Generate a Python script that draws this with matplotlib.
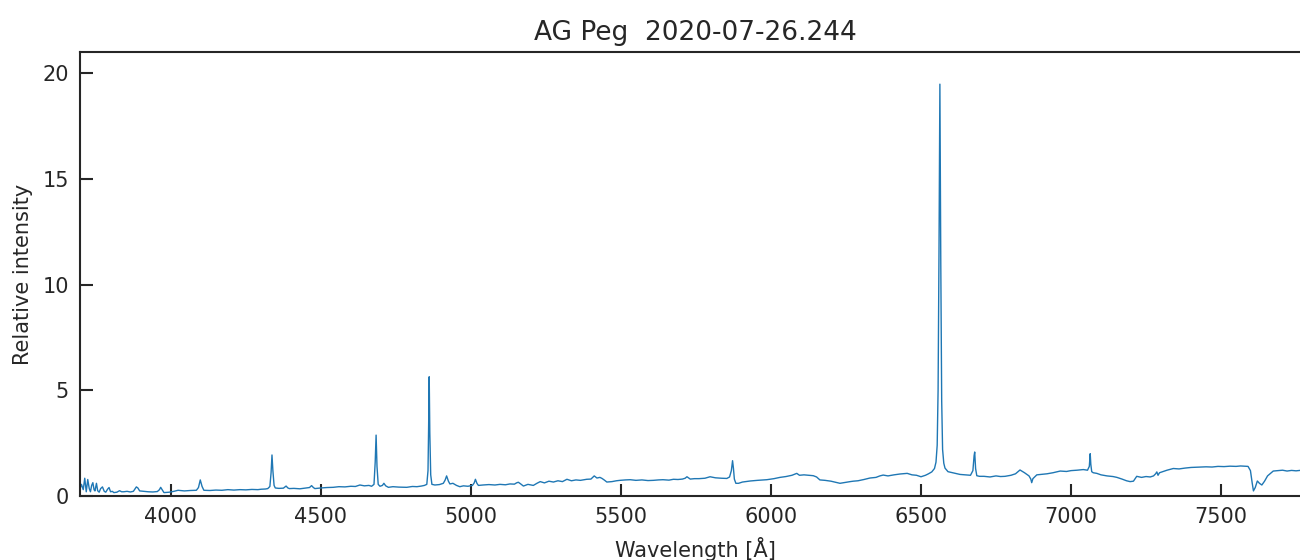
import matplotlib
matplotlib.use("Agg")
import matplotlib.pyplot as plt

# wavelength [A] and relative intensity
wavelength = [
    3696, 3702, 3708, 3713, 3718, 3723, 3728, 3732, 3736, 3740, 3744, 3747, 3752, 3756,
    3761, 3766, 3772, 3778, 3783, 3789, 3794, 3799, 3805, 3810, 3820, 3829, 3836, 3843,
    3854, 3865, 3875, 3885, 3890, 3896, 3910, 3924, 3940, 3955, 3962, 3966, 3971, 3977,
    3995, 4010, 4024, 4045, 4065, 4085, 4092, 4098, 4104, 4110, 4130, 4150, 4170, 4190,
    4210, 4230, 4250, 4270, 4290, 4301, 4315, 4323, 4330, 4334, 4337, 4340, 4344, 4348,
    4360, 4375, 4384, 4390, 4395, 4410, 4430, 4450, 4462, 4469, 4475, 4480, 4500, 4520,
    4541, 4560, 4580, 4600, 4615, 4630, 4645, 4660, 4669, 4677, 4681, 4684, 4687, 4691,
    4697, 4705, 4710, 4716, 4725, 4740, 4760, 4786, 4805, 4820, 4835, 4845, 4853, 4857,
    4859, 4861, 4863, 4866, 4870, 4880, 4895, 4908, 4914, 4919, 4925, 4930, 4940, 4952,
    4963, 4975, 4990, 5005, 5011, 5015, 5020, 5025, 5040, 5060, 5080, 5097, 5115, 5130,
    5145, 5152, 5158, 5165, 5175, 5190, 5208, 5220, 5231, 5245, 5260, 5275, 5290, 5305,
    5320, 5335, 5350, 5365, 5386, 5400, 5411, 5420, 5430, 5437, 5445, 5453, 5470, 5485,
    5497, 5515, 5531, 5550, 5570, 5590, 5608, 5625, 5640, 5660, 5675, 5690, 5705, 5714,
    5720, 5731, 5745, 5760, 5780, 5797, 5815, 5835, 5853, 5862, 5868, 5872, 5875, 5878,
    5883, 5892, 5905, 5931, 5955, 5986, 6010, 6030, 6050, 6070, 6086, 6095, 6110, 6125,
    6141, 6152, 6163, 6180, 6200, 6215, 6230, 6250, 6264, 6274, 6290, 6310, 6330, 6350,
    6363, 6374, 6390, 6410, 6430, 6454, 6470, 6485, 6500, 6515, 6525, 6536, 6545, 6550,
    6554, 6557, 6560, 6563, 6566, 6569, 6572, 6576, 6580, 6590, 6605, 6630, 6650, 6665,
    6673, 6677, 6679, 6682, 6686, 6695, 6710, 6730, 6750, 6765, 6780, 6800, 6815, 6830,
    6845, 6860, 6866, 6869, 6873, 6886, 6900, 6920, 6940, 6964, 6985, 7000, 7020, 7041,
    7055, 7061, 7064, 7066, 7069, 7074, 7086, 7100, 7120, 7140, 7153, 7170, 7185, 7197,
    7208, 7219, 7235, 7250, 7264, 7275, 7282, 7286, 7290, 7295, 7305, 7320, 7341, 7360,
    7380, 7400, 7430, 7450, 7470, 7490, 7510, 7530, 7550, 7565, 7580, 7590, 7598, 7604,
    7608, 7614, 7621, 7628, 7636, 7645, 7655, 7674, 7690, 7705, 7720, 7735, 7750, 7763,
    7780, 7800,
]
intensity = [
    0.28, 0.55, 0.30, 0.84, 0.20, 0.78, 0.35, 0.20, 0.50, 0.63, 0.30, 0.24, 0.60, 0.25,
    0.18, 0.35, 0.43, 0.22, 0.18, 0.32, 0.40, 0.20, 0.22, 0.16, 0.18, 0.25, 0.20, 0.20,
    0.22, 0.19, 0.22, 0.43, 0.38, 0.24, 0.22, 0.20, 0.19, 0.21, 0.30, 0.41, 0.30, 0.16,
    0.18, 0.22, 0.27, 0.24, 0.26, 0.27, 0.40, 0.76, 0.45, 0.27, 0.26, 0.28, 0.27, 0.30,
    0.28, 0.30, 0.29, 0.31, 0.30, 0.32, 0.33, 0.35, 0.45, 1.10, 1.94, 1.20, 0.50, 0.38,
    0.36, 0.37, 0.47, 0.38, 0.35, 0.36, 0.34, 0.38, 0.40, 0.49, 0.40, 0.35, 0.38, 0.40,
    0.41, 0.44, 0.43, 0.46, 0.45, 0.52, 0.48, 0.50, 0.46, 0.55, 1.60, 2.88, 1.40, 0.55,
    0.46, 0.50, 0.60, 0.48, 0.41, 0.44, 0.42, 0.41, 0.45, 0.44, 0.47, 0.50, 0.55, 1.20,
    3.20, 5.64, 3.00, 1.00, 0.55, 0.52, 0.54, 0.60, 0.75, 0.95, 0.70, 0.57, 0.60, 0.50,
    0.44, 0.48, 0.46, 0.50, 0.62, 0.79, 0.60, 0.50, 0.52, 0.54, 0.52, 0.55, 0.53, 0.57,
    0.56, 0.62, 0.65, 0.58, 0.47, 0.55, 0.50, 0.60, 0.68, 0.62, 0.70, 0.66, 0.72, 0.68,
    0.79, 0.72, 0.76, 0.74, 0.79, 0.80, 0.95, 0.85, 0.88, 0.83, 0.75, 0.66, 0.68, 0.72,
    0.74, 0.76, 0.77, 0.74, 0.76, 0.73, 0.74, 0.76, 0.77, 0.75, 0.79, 0.78, 0.80, 0.84,
    0.91, 0.80, 0.82, 0.82, 0.84, 0.91, 0.86, 0.84, 0.83, 0.90, 1.20, 1.67, 1.30, 0.80,
    0.60, 0.60, 0.66, 0.71, 0.74, 0.77, 0.82, 0.88, 0.92, 0.98, 1.07, 0.98, 1.00, 0.98,
    0.96, 0.90, 0.76, 0.74, 0.70, 0.65, 0.60, 0.65, 0.68, 0.70, 0.72, 0.78, 0.85, 0.88,
    0.95, 0.99, 0.95, 1.00, 1.04, 1.07, 1.00, 0.98, 0.91, 0.98, 1.05, 1.14, 1.30, 1.60,
    2.40, 5.00, 11.5, 19.48, 11.0, 4.50, 2.20, 1.55, 1.32, 1.15, 1.10, 1.02, 1.00, 0.98,
    1.20, 1.90, 2.08, 1.30, 0.96, 0.93, 0.93, 0.90, 0.95, 0.92, 0.93, 0.98, 1.05, 1.23,
    1.10, 0.95, 0.80, 0.63, 0.82, 1.00, 1.02, 1.05, 1.10, 1.18, 1.16, 1.20, 1.22, 1.25,
    1.22, 1.40, 2.00, 1.50, 1.15, 1.10, 1.07, 1.00, 0.95, 0.92, 0.88, 0.80, 0.72, 0.68,
    0.70, 0.93, 0.88, 0.92, 0.90, 0.95, 1.05, 1.14, 0.98, 1.10, 1.15, 1.22, 1.30, 1.28,
    1.32, 1.35, 1.37, 1.38, 1.37, 1.40, 1.39, 1.41, 1.40, 1.42, 1.41, 1.40, 1.20, 0.60,
    0.24, 0.40, 0.71, 0.60, 0.52, 0.70, 0.95, 1.18, 1.20, 1.22, 1.18, 1.21, 1.19, 1.21,
    1.20, 1.22,
]

plt.rcParams['font.family'] = 'DejaVu Sans'
text_color = '#262626'

fig = plt.figure(figsize=(13, 5.6), dpi=100)
ax = fig.add_axes([0.0615, 0.1143, 0.947, 0.7928])

ax.plot(wavelength, intensity, color='#1f77b4', lw=1.0)

ax.set_xlim(3697, 7800)
ax.set_ylim(0, 21)
ax.set_xticks([4000, 4500, 5000, 5500, 6000, 6500, 7000, 7500])
ax.set_yticks([0, 5, 10, 15, 20])

for side in ['top', 'bottom', 'left', 'right']:
    ax.spines[side].set_color(text_color)
    ax.spines[side].set_linewidth(1.5)

ax.tick_params(axis='both', direction='in', length=9, width=1.5, colors=text_color,
               labelsize=15, pad=8)
ax.tick_params(top=False, right=False)

ax.set_xlabel("Wavelength [Å]", fontsize=15, color=text_color, labelpad=7)
ax.set_ylabel("Relative intensity", fontsize=15, color=text_color, labelpad=7)
ax.set_title("AG Peg  2020-07-26.244", fontsize=19, color=text_color, pad=9)

fig.savefig("out.png", dpi=100)
plt.close(fig)
